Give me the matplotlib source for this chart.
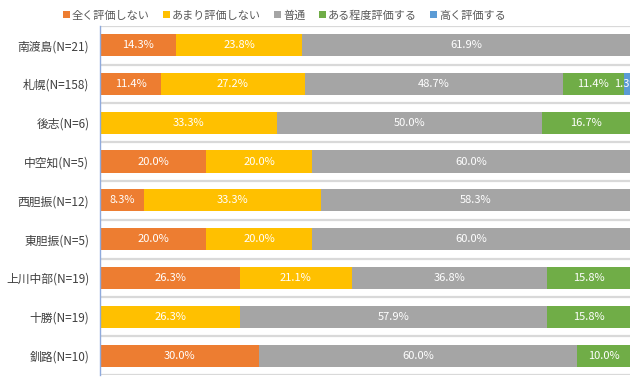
import numpy as np
import matplotlib.pyplot as plt

plt.rcParams['font.family'] = ['Noto Sans CJK JP', 'DejaVu Sans']

# ------------------------------------------------------------
# Data (percent of responses per region)
# ------------------------------------------------------------
regions = ['南渡島(N=21)', '札幌(N=158)', '後志(N=6)', '中空知(N=5)', '西胆振(N=12)',
           '東胆振(N=5)', '上川中部(N=19)', '十勝(N=19)', '釧路(N=10)']
series_names = ['全く評価しない', 'あまり評価しない', '普通', 'ある程度評価する', '高く評価する']
not_at_all = [14.3, 11.4, 0.0, 20.0, 8.3, 20.0, 26.3, 0.0, 30.0]
not_much = [23.8, 27.2, 33.3, 20.0, 33.3, 20.0, 21.1, 26.3, 0.0]
normal = [61.9, 48.7, 50.0, 60.0, 58.3, 60.0, 36.8, 57.9, 60.0]
somewhat = [0.0, 11.4, 16.7, 0.0, 0.0, 0.0, 15.8, 15.8, 10.0]
highly = [0.0, 1.3, 0.0, 0.0, 0.0, 0.0, 0.0, 0.0, 0.0]
colors = ['#ED7D31', '#FFC000', '#A5A5A5', '#70AD47', '#5B9BD5']

series = [not_at_all, not_much, normal, somewhat, highly]

fig = plt.figure(figsize=(6.4, 3.78), dpi=100)
ax = fig.add_axes([0.157, 0.008, 0.828, 0.924])

y = np.arange(len(regions))
left = np.zeros(len(regions))

# category separator lines
for b in np.arange(-0.5, len(regions), 1.0):
    ax.axhline(b, color='#D9D9D9', linewidth=1.6, zorder=0)

for vals, col, name in zip(series, colors, series_names):
    vals = np.array(vals)
    ax.barh(y, vals, left=left, height=0.57, color=col, label=name, zorder=2)
    for yi, (l, v) in enumerate(zip(left, vals)):
        if v > 0:
            ax.text(l + v / 2, yi, f'{v:.1f}%', ha='center', va='center',
                    color='white', fontsize=8, zorder=3, clip_on=True)
    left += vals

ax.set_xlim(0, 100)
ax.set_ylim(len(regions) - 0.5, -0.5)
ax.set_yticks(y)
ax.set_yticklabels(regions, fontsize=8.5, color='#404040')
ax.set_xticks([])
ax.tick_params(axis='y', length=0, pad=8)
for s in ['top', 'right', 'bottom']:
    ax.spines[s].set_visible(False)
ax.spines['left'].set_color('#8FAADC')
ax.spines['left'].set_linewidth(1.0)

fig.legend(loc='upper left', bbox_to_anchor=(0.083, 1.0), ncol=5, frameon=False,
           fontsize=8, handlelength=0.6, handleheight=0.6, handletextpad=0.2,
           columnspacing=1.2, labelcolor='#595959')

fig.savefig('out.png', dpi=100)
